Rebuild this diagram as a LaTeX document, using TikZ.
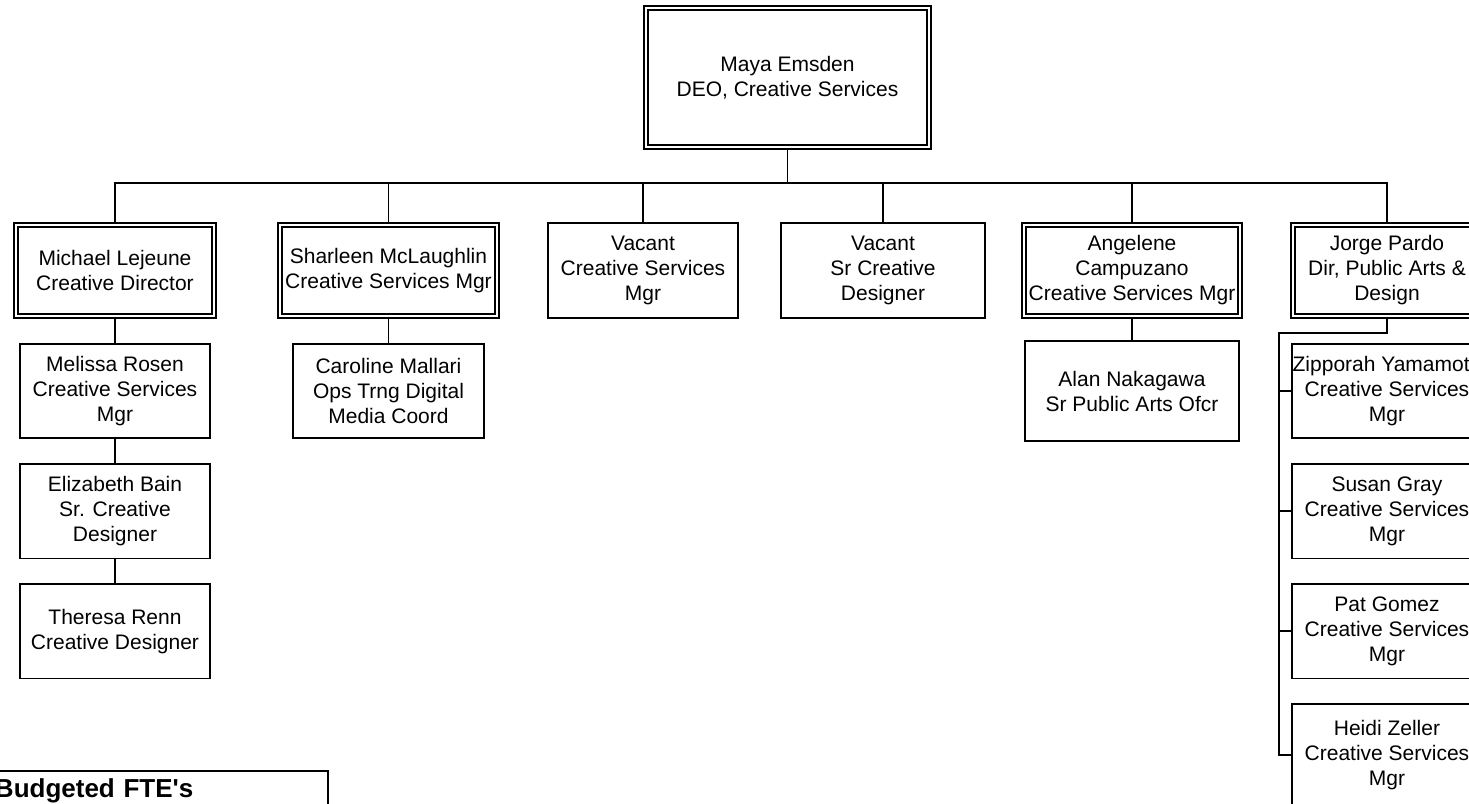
\documentclass[tikz,border=0pt]{standalone}
\usepackage{fontspec}
\setmainfont{Liberation Sans}[Ligatures=TeXOff]
\usepackage{tikz}
\usetikzlibrary{positioning}
\newcommand{\orgfont}{\fontsize{10.5pt}{12.5pt}\selectfont}
\tikzstyle{staff}=[rectangle,draw=black,line width=0.85pt,minimum width=95.2pt,
                  minimum height=47.2pt,inner sep=0.5pt,align=center,font=\orgfont]
\tikzstyle{lead}=[staff,double,double distance=1.3pt,outer sep=1.5pt,minimum height=45.5pt]
\tikzstyle{ftebox}=[rectangle,draw=black,line width=1pt,text width=162pt,align=left,
                  inner xsep=4.5pt,inner ysep=4pt,text depth=40pt,
                  font=\bfseries\fontsize{13pt}{15pt}\selectfont]
\tikzstyle{link}=[line width=0.85pt,draw=black]

\begin{document}
\begin{tikzpicture}[x=0.5pt,y=-0.5pt,node distance=12pt]
      \useasboundingbox (0,0) rectangle (1469,804);
      \node[lead,minimum width=141.5pt,minimum height=69.5pt] (maya) at (787.5,77.5) {Maya Emsden\\DEO, Creative Services};
      \node[lead,minimum width=99pt] (michael) at (115,270.5) {Michael Lejeune\\Creative Director};
      \node[lead,minimum width=108.5pt] (sharleen) at (388.5,270.5) {Sharleen McLaughlin\\Creative Services Mgr};
      \node[staff,minimum height=47.7pt] (vacmgr) at (643,270.5) {Vacant\\Creative Services\\Mgr};
      \node[staff,minimum width=102.2pt,minimum height=47.7pt] (vacdes) at (883,270.5) {Vacant\\Sr Creative\\Designer};
      \node[lead,minimum width=108pt] (angelene) at (1132,270.5) {Angelene\\Campuzano\\Creative Services Mgr};
      \node[lead,minimum width=94pt] (jorge) at (1387,270.5) {Jorge Pardo\\Dir, Public Arts \&\\Design};

      \node[staff,below=of michael] (melissa) {Melissa Rosen\\Creative Services\\Mgr};
      \node[staff,below=of melissa] (elizabeth) {Elizabeth Bain\\Sr. Creative\\Designer};
      \node[staff,below=of elizabeth] (theresa) {Theresa Renn\\Creative Designer};
      \node[staff,below=of sharleen] (caroline) {Caroline Mallari\\Ops Trng Digital\\Media Coord};
      \node[staff,below=10.5pt of angelene,minimum width=107.2pt,minimum height=50.2pt] (alan) {Alan Nakagawa\\Sr Public Arts Ofcr};
      \node[staff,below=of jorge] (zipporah) {Zipporah Yamamoto\\Creative Services\\Mgr};
      \node[staff,below=of zipporah] (susan) {Susan Gray\\Creative Services\\Mgr};
      \node[staff,below=of susan] (pat) {Pat Gomez\\Creative Services\\Mgr};
      \node[staff,below=of pat,minimum height=51pt] (heidi) {Heidi Zeller\\Creative Services\\Mgr};

      \node[ftebox,anchor=north west] (fte) at (-15,770) {Budgeted FTE's};

      \draw[link] (maya.south) -- ++(0,-16.5pt) -| (michael.north);
      \draw[link] (maya.south) -- ++(0,-16.5pt) -| (sharleen.north);
      \draw[link] (maya.south) -- ++(0,-16.5pt) -| (vacmgr.north);
      \draw[link] (maya.south) -- ++(0,-16.5pt) -| (vacdes.north);
      \draw[link] (maya.south) -- ++(0,-16.5pt) -| (angelene.north);
      \draw[link] (maya.south) -- ++(0,-16.5pt) -| (jorge.north);
      \draw[link] (michael)--(melissa);
      \draw[link] (melissa)--(elizabeth);
      \draw[link] (elizabeth)--(theresa);
      \draw[link] (sharleen)--(caroline);
      \draw[link] (angelene)--(alan);
      \draw[link] (jorge.south) -- ++(0,-7pt) -| ([xshift=-6pt]heidi.west) -- (heidi.west);
      \draw[link] (zipporah.west) -- ++(-6pt,0);
      \draw[link] (susan.west) -- ++(-6pt,0);
      \draw[link] (pat.west) -- ++(-6pt,0);
    \end{tikzpicture}
\end{document}
